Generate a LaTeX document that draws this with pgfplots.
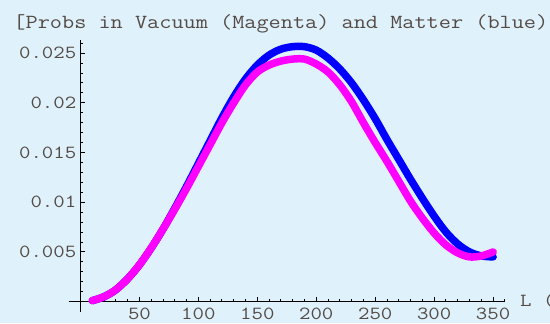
\documentclass[border=0pt]{standalone}
\usepackage{fontspec}
\setmainfont{Liberation Mono}
\newfontfamily\cour{Latin Modern Mono}[FakeStretch=1.18]
\newfontfamily\courtick{Latin Modern Mono}[FakeStretch=1.2]
\usepackage{pgfplots}
\pgfplotsset{compat=1.18}
\definecolor{bgblue}{RGB}{223,242,252}
\definecolor{txt}{RGB}{85,75,70}
\definecolor{mblue}{RGB}{0,0,255}
\definecolor{mmag}{RGB}{255,0,255}
\begin{document}
\begin{tikzpicture}[x=1bp,y=1bp]
\useasboundingbox (0,0) rectangle (550,323);
\fill[bgblue] (0,0) rectangle (550,323);
\node[anchor=base west, inner sep=0pt, text=txt, font=\cour\fontsize{20bp}{24bp}\selectfont] at (13.3,295) {[Probs in Vacuum (Magenta) and Matter (blue)};
\begin{axis}[
  at={(68.7bp,11.4bp)}, anchor=south west,
  scale only axis, width=436.2bp, height=271.4bp,
  xmin=-10, xmax=360, ymin=-0.001, ymax=0.0263,
  axis lines=middle, axis line style={-, line width=1.2bp, black},
  clip=false,
  scaled y ticks=false, scaled x ticks=false,
  xtick={50,100,150,200,250,300,350},
  xticklabels={50,100,150,200,250,300,350},
  minor xtick={10,20,30,40,60,70,80,90,110,120,130,140,160,170,180,190,210,220,230,240,260,270,280,290,310,320,330,340,360},
  ytick={0.005,0.01,0.015,0.02,0.025},
  yticklabels={0.005,0.01,0.015,0.02,0.025},
  minor ytick={0.001,0.002,0.003,0.004,0.006,0.007,0.008,0.009,0.011,0.012,0.013,0.014,0.016,0.017,0.018,0.019,0.021,0.022,0.023,0.024,0.026},
  tick align=inside,
  major tick length=4.5bp, minor tick length=2.5bp,
  every tick/.style={black, line width=1bp},
  /pgf/number format/assume math mode=true,
  xticklabel style={anchor=north, inner sep=0pt, yshift=-6.5bp, text=txt, font=\courtick\fontsize{18.5bp}{22bp}\selectfont},
  yticklabel style={anchor=east, inner sep=0pt, xshift=-4bp, text=txt, font=\courtick\fontsize{18.5bp}{22bp}\selectfont},
]
\addplot[mblue, line width=7.5bp, line cap=round, line join=round, smooth] coordinates {
(10,0.0001) (20,0.0005) (30,0.0012) (40,0.0023) (50,0.0037) (60,0.0054) (70,0.0073) (80,0.0094) (90,0.0116) (100,0.0139) (110,0.0162) (120,0.0185) (130,0.0206) (140,0.0224) (150,0.0238) (160,0.0248) (170,0.0254) (180,0.02565) (190,0.02565) (200,0.0253) (210,0.0245) (220,0.0234) (230,0.0220) (240,0.0203) (250,0.0184) (260,0.0163) (270,0.0143) (280,0.0123) (290,0.0104) (300,0.0086) (310,0.0070) (320,0.0058) (330,0.0050) (340,0.0046) (350,0.0045)
};
\addplot[mmag, line width=7.5bp, line cap=round, line join=round, smooth] coordinates {
(10,0.0001) (20,0.0005) (30,0.0012) (40,0.0023) (50,0.0037) (60,0.0054) (70,0.0073) (80,0.0093) (90,0.0114) (100,0.0136) (110,0.0158) (120,0.0180) (130,0.0200) (140,0.0218) (150,0.0231) (160,0.0238) (170,0.0242) (180,0.0244) (190,0.0244) (200,0.0239) (210,0.0231) (220,0.0218) (230,0.0201) (240,0.0180) (250,0.0160) (260,0.0141) (270,0.0121) (280,0.0101) (290,0.0084) (300,0.0069) (310,0.0057) (320,0.0049) (330,0.0045) (340,0.0046) (350,0.0050)
};
\end{axis}
\node[anchor=base west, inner sep=0pt, text=txt, font=\courtick\fontsize{18.5bp}{22bp}\selectfont] at (520,17) {L (km)};
\end{tikzpicture}
\end{document}
